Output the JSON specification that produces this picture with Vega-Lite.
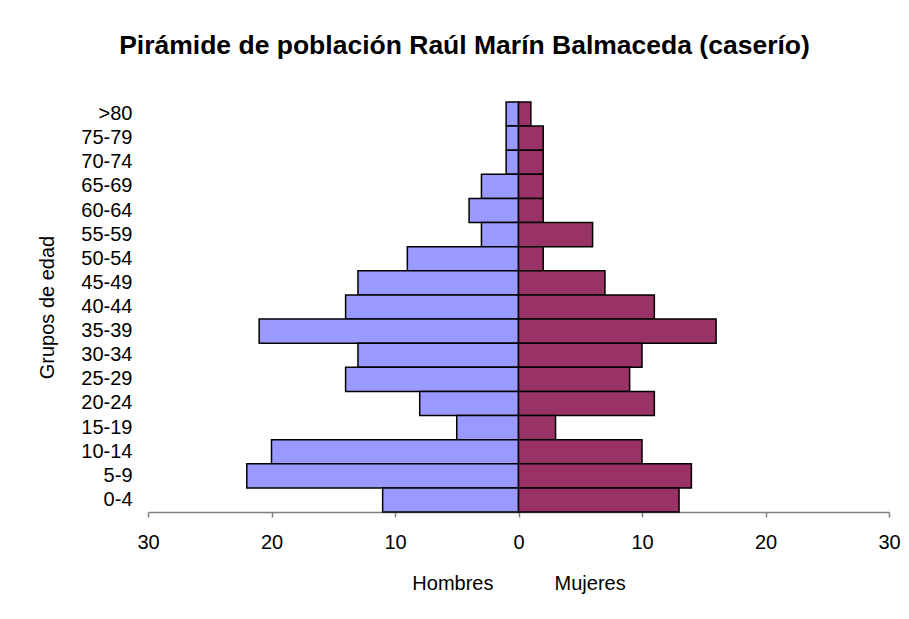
{
  "$schema": "https://vega.github.io/schema/vega-lite/v6.json",
  "width": 741,
  "height": 410,
  "autosize": {"type": "none"},
  "padding": {"left": 148, "top": 102, "right": 20, "bottom": 107},
  "background": "white",
  "title": {
    "text": "Pirámide de población Raúl Marín Balmaceda (caserío)",
    "font": "Liberation Sans",
    "fontSize": 26.5,
    "fontWeight": "bold",
    "color": "black",
    "anchor": "middle",
    "frame": "group",
    "dx": -54,
    "baseline": "alphabetic",
    "offset": 21
  },
  "data": {
    "values": [
      {"grupo": ">80", "sexo": "Hombres", "poblacion": 1},
      {"grupo": "75-79", "sexo": "Hombres", "poblacion": 1},
      {"grupo": "70-74", "sexo": "Hombres", "poblacion": 1},
      {"grupo": "65-69", "sexo": "Hombres", "poblacion": 3},
      {"grupo": "60-64", "sexo": "Hombres", "poblacion": 4},
      {"grupo": "55-59", "sexo": "Hombres", "poblacion": 3},
      {"grupo": "50-54", "sexo": "Hombres", "poblacion": 9},
      {"grupo": "45-49", "sexo": "Hombres", "poblacion": 13},
      {"grupo": "40-44", "sexo": "Hombres", "poblacion": 14},
      {"grupo": "35-39", "sexo": "Hombres", "poblacion": 21},
      {"grupo": "30-34", "sexo": "Hombres", "poblacion": 13},
      {"grupo": "25-29", "sexo": "Hombres", "poblacion": 14},
      {"grupo": "20-24", "sexo": "Hombres", "poblacion": 8},
      {"grupo": "15-19", "sexo": "Hombres", "poblacion": 5},
      {"grupo": "10-14", "sexo": "Hombres", "poblacion": 20},
      {"grupo": "5-9", "sexo": "Hombres", "poblacion": 22},
      {"grupo": "0-4", "sexo": "Hombres", "poblacion": 11},
      {"grupo": ">80", "sexo": "Mujeres", "poblacion": 1},
      {"grupo": "75-79", "sexo": "Mujeres", "poblacion": 2},
      {"grupo": "70-74", "sexo": "Mujeres", "poblacion": 2},
      {"grupo": "65-69", "sexo": "Mujeres", "poblacion": 2},
      {"grupo": "60-64", "sexo": "Mujeres", "poblacion": 2},
      {"grupo": "55-59", "sexo": "Mujeres", "poblacion": 6},
      {"grupo": "50-54", "sexo": "Mujeres", "poblacion": 2},
      {"grupo": "45-49", "sexo": "Mujeres", "poblacion": 7},
      {"grupo": "40-44", "sexo": "Mujeres", "poblacion": 11},
      {"grupo": "35-39", "sexo": "Mujeres", "poblacion": 16},
      {"grupo": "30-34", "sexo": "Mujeres", "poblacion": 10},
      {"grupo": "25-29", "sexo": "Mujeres", "poblacion": 9},
      {"grupo": "20-24", "sexo": "Mujeres", "poblacion": 11},
      {"grupo": "15-19", "sexo": "Mujeres", "poblacion": 3},
      {"grupo": "10-14", "sexo": "Mujeres", "poblacion": 10},
      {"grupo": "5-9", "sexo": "Mujeres", "poblacion": 14},
      {"grupo": "0-4", "sexo": "Mujeres", "poblacion": 13}
    ]
  },
  "transform": [
    {"calculate": "datum.sexo === 'Hombres' ? -datum.poblacion : datum.poblacion", "as": "valor"}
  ],
  "mark": {"type": "bar", "stroke": "black", "strokeWidth": 1.5, "strokeJoin": "miter"},
  "encoding": {
    "y": {
      "field": "grupo",
      "type": "nominal",
      "sort": [">80", "75-79", "70-74", "65-69", "60-64", "55-59", "50-54", "45-49", "40-44", "35-39", "30-34", "25-29", "20-24", "15-19", "10-14", "5-9", "0-4"],
      "scale": {"paddingInner": 0, "paddingOuter": 0},
      "axis": {
        "title": "Grupos de edad",
        "titleFont": "Liberation Sans",
        "titleFontSize": 20,
        "titleFontWeight": "normal",
        "titleColor": "black",
        "titleX": -101,
        "titleY": 205,
        "titleAngle": -90,
        "titleAlign": "center",
        "titleBaseline": "middle",
        "domain": false,
        "ticks": false,
        "labelPadding": 16,
        "labelOffset": 0,
        "labelFont": "Liberation Sans",
        "labelFontSize": 20,
        "labelColor": "black",
        "grid": false
      }
    },
    "x": {
      "field": "valor",
      "type": "quantitative",
      "scale": {"domain": [-30, 30], "nice": false},
      "axis": {
        "values": [-30, -20, -10, 0, 10, 20, 30],
        "labelExpr": "abs(datum.value)",
        "labelFlush": false,
        "title": "Hombres\u00a0\u00a0\u00a0\u00a0\u00a0\u00a0\u00a0\u00a0\u00a0\u00a0\u00a0Mujeres",
        "titleFont": "Liberation Sans",
        "titleFontSize": 20,
        "titleFontWeight": "normal",
        "titleColor": "black",
        "titleY": 71,
        "titleBaseline": "middle",
        "domainColor": "#808080",
        "domainWidth": 1.5,
        "tickColor": "#808080",
        "tickWidth": 1.5,
        "tickSize": 5,
        "labelPadding": 15,
        "labelFont": "Liberation Sans",
        "labelFontSize": 20,
        "labelColor": "black",
        "grid": false
      }
    },
    "color": {
      "field": "sexo",
      "type": "nominal",
      "scale": {"domain": ["Hombres", "Mujeres"], "range": ["#9999FF", "#993366"]},
      "legend": null
    }
  },
  "config": {"view": {"stroke": null}}
}
